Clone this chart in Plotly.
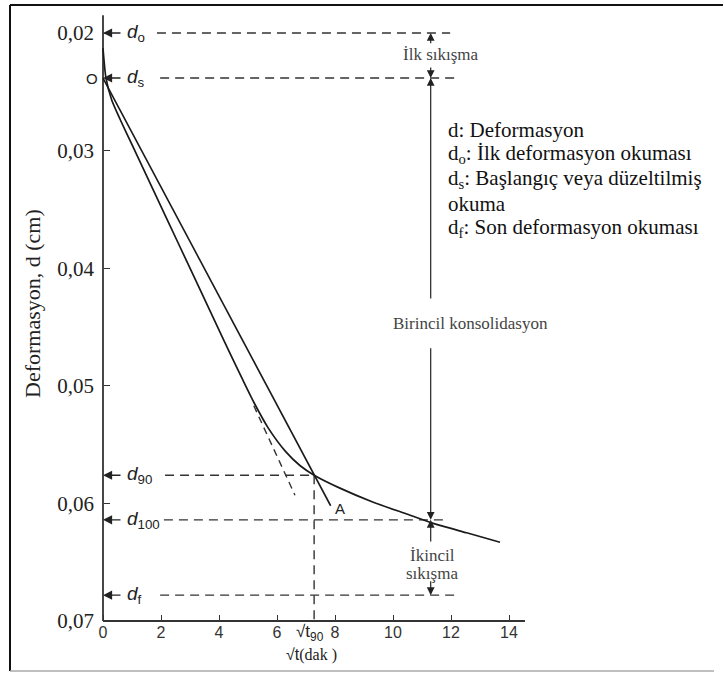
import plotly.graph_objects as go

# ---------------- data ----------------
# settlement curve  d vs sqrt(t)
curve_x = [0.0, 0.1, 0.3, 0.6, 1.0, 1.8, 2.6, 3.4, 4.2, 4.8, 5.2, 5.7, 6.3, 6.8,
           7.28, 8.17, 9.32, 10.47, 11.39, 12.54, 13.69]
curve_d = [0.0213, 0.0238, 0.0257, 0.0274, 0.0295, 0.0337, 0.0379, 0.0421, 0.0463,
           0.0494, 0.0514, 0.0536, 0.0556, 0.0568, 0.0576, 0.0587, 0.0599, 0.0609,
           0.0617, 0.0625, 0.0633]

# straight line from d_s (1.15 x abscissa) ending at "A"
line_x = [0.0, 7.85]
line_d = [0.02383, 0.0602]

# dashed continuation of the initial tangent
tangent_x = [5.2, 6.62]
tangent_d = [0.0517, 0.0593]

# reference readings
level_names = ["o", "s", "90", "100", "f"]
level_d = [0.0200, 0.02383, 0.0576, 0.0614, 0.0678]
dash_from = [1.86, 1.97, 2.14, 2.10, 1.97]
dash_to = [11.97, 12.24, 7.28, 11.90, 12.30]
sqrt_t90 = 7.28
bracket_x = 11.3
axis_top_d = 0.0185
x_axis_end = 14.55

x_ticks = [0, 2, 4, 6, 8, 10, 12, 14]
x_labels = ["0", "2", "4", "6", "8", "10", "12", "14"]
y_ticks = [0.02, 0.03, 0.04, 0.05, 0.06, 0.07]
y_labels = ["0,02", "0,03", "0,04", "0,05", "0,06", "0,07"]

# bracket arrows on the right: (tip d, tail d)
bracket_tips = [0.0200, 0.02383, 0.02383, 0.0614, 0.0614, 0.0678]
bracket_tails = [0.0210, 0.0228, 0.0427, 0.04667, 0.06337, 0.0665]

legend_lines = [
    "d: Deformasyon",
    "d<sub>o</sub>: İlk deformasyon okuması",
    "d<sub>s</sub>: Başlangıç veya düzeltilmiş",
    "okuma",
    "d<sub>f</sub>: Son deformasyon okuması",
]

SERIF = "Liberation Serif"
SANS = "Liberation Sans"
INK = "#1a1a1a"

# ---------------- layout geometry ----------------
W, H = 724, 673
L, R, T, B = 74, 70, 5, 5
PW, PH = W - L - R, H - T - B


def px_x(px):
    return (px - L) / PW


def px_y(py):
    return (H - B - py) / PH


fig = go.Figure()

common = dict(mode="lines", hoverinfo="skip", showlegend=False)

# axes lines
fig.add_trace(go.Scatter(x=[0, 0], y=[axis_top_d, 0.07], line=dict(color="#333", width=1.8), **common))
fig.add_trace(go.Scatter(x=[0, x_axis_end], y=[0.07, 0.07], line=dict(color="#333", width=1.8), **common))

# horizontal dashed reference lines
for d, a, b in zip(level_d, dash_from, dash_to):
    fig.add_trace(go.Scatter(x=[a, b], y=[d, d], line=dict(color="#333", width=1.4, dash="9px,6px"), **common))

# vertical dashed at sqrt(t90)
fig.add_trace(go.Scatter(x=[sqrt_t90, sqrt_t90], y=[level_d[2], 0.07],
                         line=dict(color="#333", width=1.4, dash="9px,6px"), **common))

# tangent (dashed part)
fig.add_trace(go.Scatter(x=tangent_x, y=tangent_d, line=dict(color="#333", width=1.4, dash="7px,5px"), **common))

# straight line
fig.add_trace(go.Scatter(x=line_x, y=line_d, line=dict(color=INK, width=1.6), **common))

# curve
fig.add_trace(go.Scatter(x=curve_x, y=curve_d, line=dict(color=INK, width=1.7, shape="spline", smoothing=0.6), **common))

annotations = []

# left arrows + d labels
for name, d in zip(level_names, level_d):
    annotations.append(dict(x=0, y=d, xref="x", yref="y", ax=19, ay=0, text="", showarrow=True,
                            arrowhead=2, arrowsize=1.3, arrowwidth=1.4, arrowcolor="#222"))
    annotations.append(dict(x=0, y=d, xref="x", yref="y", xshift=22, xanchor="left", yanchor="middle",
                            text="<i>d</i><sub>%s</sub>" % name, showarrow=False,
                            font=dict(family=SANS, size=19, color="#222")))

# "O" at d_s
annotations.append(dict(x=-0.38, y=level_d[1], xref="x", yref="y", text="O", showarrow=False,
                        xanchor="center", yanchor="middle",
                        font=dict(family=SANS, size=15, color="#222")))

# right side bracket arrows
for tip, tail in zip(bracket_tips, bracket_tails):
    annotations.append(dict(x=bracket_x, y=tip, ax=bracket_x, ay=tail, xref="x", yref="y",
                            axref="x", ayref="y", text="", showarrow=True, arrowhead=2,
                            arrowsize=1.3, arrowwidth=1.2, arrowcolor="#222"))


def ptext(px, py, text, font, xanchor="center", **kw):
    return dict(x=px_x(px), y=px_y(py), xref="paper", yref="paper", text=text, showarrow=False,
                xanchor=xanchor, yanchor="middle", font=font, **kw)


gray_font = dict(family=SERIF, size=17, color="#444")
annotations.append(ptext(441, 55, "İlk sıkışma", gray_font))
annotations.append(ptext(470, 323, "Birincil konsolidasyon", gray_font))
annotations.append(ptext(432, 555, "İkincil", gray_font))
annotations.append(ptext(432, 573, "sıkışma", gray_font))

# legend text
for i, txt in enumerate(legend_lines):
    annotations.append(ptext(446, 130 + 24.5 * i, txt, dict(family=SERIF, size=21, color="#111"),
                             xanchor="left"))

# A label
annotations.append(dict(x=8.17, y=0.0604, xref="x", yref="y", text="A", showarrow=False,
                        xanchor="center", yanchor="middle",
                        font=dict(family=SANS, size=15, color="#222")))

# sqrt(t90) label
annotations.append(dict(x=sqrt_t90, y=0.07, xref="x", yref="y", yshift=-12, xshift=-4,
                        text="√t<sub>90</sub>", xanchor="center", yanchor="middle",
                        showarrow=False, font=dict(family=SANS, size=17, color="#222")))

# x title
annotations.append(ptext(311, 655, "√t<span style='font-family:Liberation Serif'>(dak )</span>",
                         dict(family=SANS, size=16, color="#222")))

# y title
annotations.append(ptext(33, 304, "Deformasyon, d (cm)", dict(family=SERIF, size=22, color="#222"),
                         textangle=-90))

shapes = [
    dict(type="line", xref="paper", yref="paper", x0=px_x(10), x1=px_x(10), y0=px_y(5), y1=px_y(671),
         line=dict(color="#111", width=2)),
    dict(type="line", xref="paper", yref="paper", x0=px_x(10), x1=px_x(723), y0=px_y(5), y1=px_y(5),
         line=dict(color="#111", width=2)),
    dict(type="line", xref="paper", yref="paper", x0=px_x(10), x1=px_x(714), y0=px_y(671), y1=px_y(671),
         line=dict(color="#aaa", width=1.5)),
]

fig.update_layout(
    width=W, height=H,
    margin=dict(l=L, r=R, t=T, b=B, autoexpand=False),
    paper_bgcolor="white", plot_bgcolor="white",
    annotations=annotations, shapes=shapes,
    xaxis=dict(range=[-1, 19], anchor="free", position=px_y(621), showgrid=False, zeroline=False,
               showline=False, tickvals=x_ticks, ticktext=x_labels, ticks="inside", ticklen=6,
               tickcolor="#333", tickwidth=1.3,
               tickfont=dict(family=SANS, size=16, color="#333")),
    yaxis=dict(range=[0.02 + 635 / 11760, 0.02 - 28 / 11760], anchor="free", position=px_x(103),
               showgrid=False, zeroline=False, showline=False, tickvals=y_ticks, ticktext=y_labels,
               ticks="inside", ticklen=6, tickcolor="#333", tickwidth=1.3, ticklabelstandoff=9,
               tickfont=dict(family=SERIF, size=21, color="#222")),
)

fig.write_html("out.html")
